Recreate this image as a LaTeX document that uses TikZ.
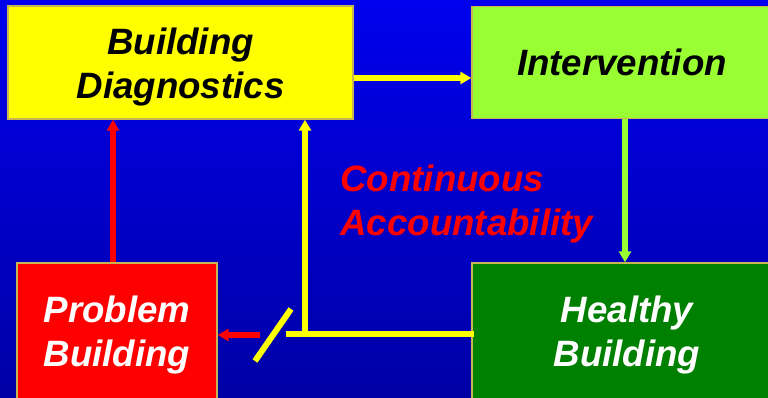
\documentclass[tikz,border=0pt]{standalone}
\usepackage{fontspec}
\setmainfont{Liberation Sans}
\usetikzlibrary{arrows.meta,calc}

\definecolor{bgtop}{RGB}{0,0,238}
\definecolor{bgmid}{RGB}{0,0,228}
\definecolor{bgbot}{RGB}{0,0,165}
\definecolor{diagyellow}{RGB}{255,255,0}
\definecolor{intervgreen}{RGB}{153,255,51}
\definecolor{healthgreen}{RGB}{0,128,0}
\definecolor{problemred}{RGB}{255,0,0}
\definecolor{edgegold}{RGB}{200,180,80}

% two centred lines, sitting a little low in their box
\newcommand{\twoline}[2]{\raisebox{-3.75pt}[\height][\depth]{\begin{tabular}{@{}c@{}}#1\\#2\end{tabular}}}

\tikzset{every picture/.style={line width=0.75pt}}
\tikzset{
  block/.style={draw=edgegold, line width=1pt, inner sep=0pt, align=center,
    font=\fontsize{27.5}{33}\selectfont\bfseries\itshape},
  flow/.style={line width=4.5pt, -{Triangle[width=9pt,length=8.25pt]}},
}

\begin{document}
\begin{tikzpicture}[x=0.75pt,y=0.75pt,yscale=-1,xscale=1]
\useasboundingbox (0,0) rectangle (768,398);
\clip (0,0) rectangle (768,398);

% backdrop
\fill[top color=bgtop, middle color=bgmid, bottom color=bgbot] (0,0) rectangle (768,398);

% the four stages
\node[block, fill=diagyellow, text=black, minimum width=258.75pt, minimum height=84.75pt] (diag) at (180.5,62.5) {\twoline{Building}{Diagnostics}};
\node[block, fill=intervgreen, text=black, minimum width=225pt, minimum height=84pt] (interv) at (622,62.5) {Intervention};
\node[block, fill=healthgreen, text=white, minimum width=232.5pt, minimum height=102pt] (healthy) at (627,331) {\twoline{Healthy}{Building}};
\node[block, fill=problemred, text=white, minimum width=150pt, minimum height=102pt] (problem) at (117,331) {\twoline{Problem}{Building}};

% middle label
\node[anchor=west, inner sep=0pt, align=left, text=problemred,
  font=\fontsize{27.5}{32.5}\selectfont\bfseries\itshape] (loop) at (340,204) {Continuous\\Accountability};

% main cycle
\draw[flow, diagyellow] ($(diag.east)+(0,15.5)$) -- ($(interv.west)+(0,15.5)$);
\draw[flow, intervgreen] ($(interv.south)+(3,0)$) -- ($(healthy.north)+(-2,0)$);
\draw[flow, problemred] ($(problem.north)+(-4,0)$) -- ($(diag.south)+(-67.5,0)$);

% feedback from healthy building
\coordinate (split) at (286,334);
\coordinate (fb) at (305,334);
\draw[diagyellow, line width=4.5pt] ($(healthy.west)+(3,3)$) -- (split);
\draw[flow, diagyellow] (fb) -- (fb |- diag.south);

% broken link back to problem building
\draw[diagyellow, line width=4.5pt] (255,361) -- (291,309);
\draw[flow, problemred] (260,335) -- ($(problem.east)+(0,4)$);

\end{tikzpicture}
\end{document}
